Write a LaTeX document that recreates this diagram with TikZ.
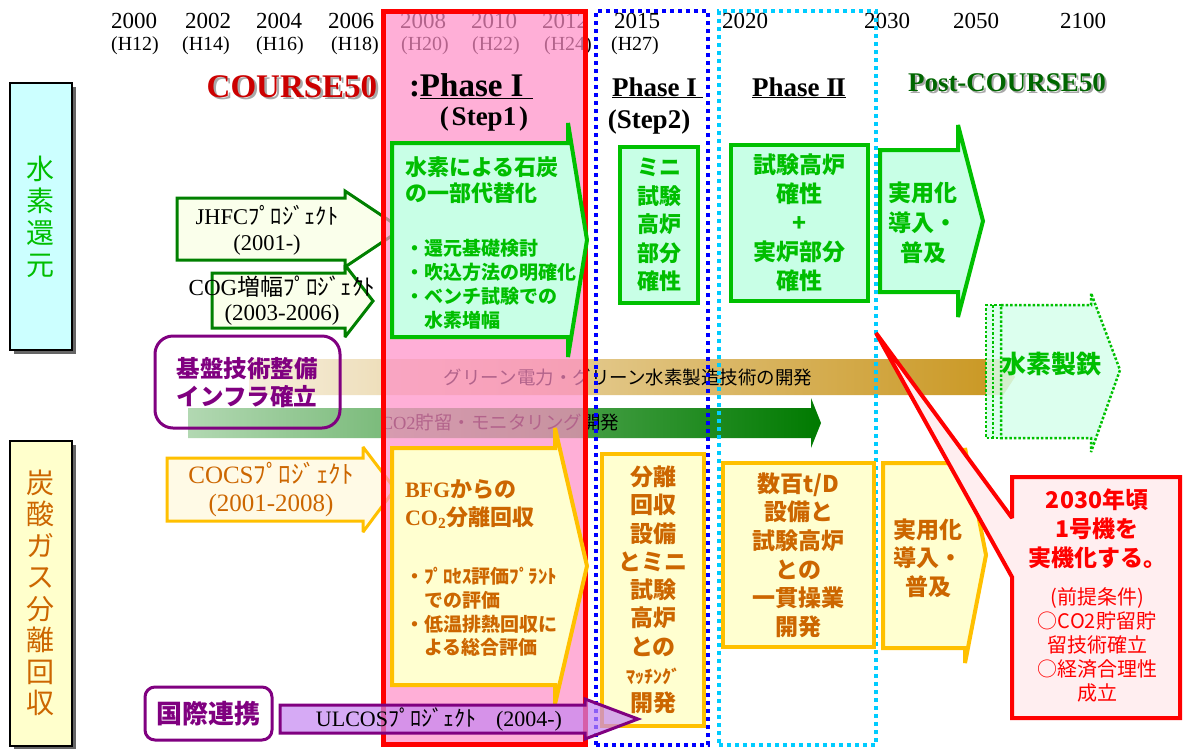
\documentclass[tikz,border=0pt]{standalone}
\usepackage{fontspec}
\setmainfont{Liberation Serif}
\newfontfamily\jp{Noto Sans CJK JP}
\usetikzlibrary{shadings}
\definecolor{gtxt}{HTML}{00BE00}
\definecolor{gline}{HTML}{00C000}
\definecolor{mint}{HTML}{C8FFE6}
\definecolor{mintl}{HTML}{D6FFEC}
\definecolor{otxt}{HTML}{CC6600}
\definecolor{yline}{HTML}{FFC000}
\definecolor{yfill}{HTML}{FFFFD0}
\definecolor{pinkb}{HTML}{FF8EC7}
\definecolor{purp}{HTML}{800080}
\definecolor{ulfill}{HTML}{C686F1}
\definecolor{dgreen}{HTML}{008000}
\definecolor{jhfill}{HTML}{FAFFEB}
\definecolor{cofill}{HTML}{FFFAE6}
\definecolor{cyanb}{HTML}{00CCFF}
\definecolor{callf}{HTML}{FFEEF0}
\definecolor{lcyan}{HTML}{CCFFFF}
\definecolor{lyel}{HTML}{FFFFCC}
\definecolor{gold1}{HTML}{F6EEDC}
\definecolor{gold2}{HTML}{C9961F}
\definecolor{co2a}{HTML}{B2D8B2}
\definecolor{co2b}{HTML}{007A00}
\definecolor{postg}{HTML}{006600}
\definecolor{c50red}{HTML}{CC0000}
\definecolor{shad}{HTML}{A8A8A8}
\newcommand\fsz[2]{\fontsize{#1}{#2}\selectfont}
\begin{document}
\begin{tikzpicture}[x=1pt,y=-1pt,line join=miter,miter limit=3,
  lbl/.style={inner sep=0pt,outer sep=0pt},
  yr/.style={lbl,font=\fsz{23}{23},anchor=base},
  hy/.style={lbl,font=\fsz{20}{20},anchor=base},
  hdr/.style={lbl,font=\bfseries\fsz{27}{27},anchor=base},
  gbox/.style={draw=gline,fill=mint,line width=4pt},
  ybox/.style={draw=yline,fill=yfill,line width=4pt},
  dotframe/.style={lbl,line width=4pt,dash pattern=on 4pt off 4pt,anchor=north west},
  bartx/.style={lbl,font=\jp\fsz{18.5}{18.5}},
  dotg/.style={draw=gline,line width=2.5pt,dash pattern=on 2.5pt off 2pt},
]
\useasboundingbox (0,0) rectangle (1184,748);
\fill[white] (0,0) rectangle (1184,748);

% ---------- years ----------
\node[yr] (y00) at (134,28) {2000};
\node[yr] (y02) at (208,28) {2002};
\node[yr] (y04) at (279,28) {2004};
\node[yr] (y06) at (351,28) {2006};
\node[yr] (y08) at (423,28) {2008};
\node[yr] (y10) at (494,28) {2010};
\node[yr] (y12) at (565,28) {2012};
\node[yr] (y15) at (637,28) {2015};
\node[yr] (y20) at (745,28) {2020};
\node[yr] (y30) at (887,28) {2030};
\node[yr] (y50) at (976,28) {2050};
\node[yr] (y100) at (1083,28) {2100};
\node[hy] (h12) at (135,50) {(H12)};
\node[hy] (h14) at (206,50) {(H14)};
\node[hy] (h16) at (280,50) {(H16)};
\node[hy] (h18) at (355,50) {(H18)};
\node[hy] (h20) at (425,50) {(H20)};
\node[hy] (h22) at (496,50) {(H22)};
\node[hy] (h24) at (568,50) {(H24)};
\node[hy] (h27) at (635,50) {(H27)};

% ---------- COURSE50 ----------
\node[lbl,font=\bfseries\fsz{33}{33},text=shad,anchor=base] (c50s) at (294.5,99.5) {COURSE50};
\node[lbl,font=\bfseries\fsz{33}{33},text=c50red,anchor=base] (c50) at (292,97) {COURSE50};

% ---------- bars ----------
\shade[left color=gold1,right color=gold2] (249,359) -- (1000,359) -- (1000,354) -- (1015,377) -- (1000,400) -- (1000,395) -- (249,395) -- cycle;
\node[bartx] (gbt) at (628,377) {グリーン電力・グリーン水素製造技術の開発};
\shade[left color=co2a,right color=co2b] (188,408) -- (811,408) -- (811,398) -- (821,423) -- (811,448) -- (811,438) -- (188,438) -- cycle;
\node[bartx] (cbt) at (500,423) {{\rmfamily CO2}貯留・モニタリング開発};

% ---------- early projects ----------
\draw[draw=dgreen,fill=jhfill,line width=3pt] (177,198) -- (345,198) -- (345,191) -- (402,229) -- (345,267) -- (345,260) -- (177,260) -- cycle;
\node[lbl,align=center,font=\fsz{22.5}{26}] (jt) at (267,230) {JHFC{\jp ﾌﾟﾛｼﾞｪｸﾄ}\\(2001-)};
\draw[draw=dgreen,fill=jhfill,line width=3pt] (212,273) -- (345,273) -- (345,265) -- (373,301) -- (345,337) -- (345,328) -- (212,328) -- cycle;
\node[lbl,align=center,font=\fsz{23}{25}] (ct) at (282,301) {COG{\jp 増幅ﾌﾟﾛｼﾞｪｸﾄ}\\(2003-2006)};
\draw[draw=yline,fill=cofill,line width=3pt] (167,458) -- (363,458) -- (363,447) -- (395,489) -- (363,532) -- (363,521) -- (167,521) -- cycle;
\node[lbl,align=center,text=otxt,font=\fsz{25}{28}] (cst) at (271,489) {COCS{\jp ﾌﾟﾛｼﾞｪｸﾄ}\\(2001-2008)};

% ---------- phase frames ----------
\node[lbl,fill=pinkb,fill opacity=0.7,draw=red,line width=5pt,minimum width=202,minimum height=733,anchor=north west] (p1) at (383,11) {};
\node[dotframe,draw=blue,minimum width=112,minimum height=734] (p1b) at (596,11) {};
\node[dotframe,draw=cyanb,minimum width=157,minimum height=734] (p2) at (719,11) {};

% ---------- headers ----------
\node[lbl,anchor=base west,font=\bfseries\fsz{33}{33}] (ph1) at (409,96) {:\underline{Phase I\hspace{9pt}}};
\node[hdr] (st1) at (484,125) {(\kern3pt Step1\kern3pt)};
\node[hdr,anchor=base west] (ph1s2) at (612,96) {\underline{Phase I\hspace{6pt}}};
\node[hdr] (st2) at (649,128) {(Step2)};
\node[hdr] (ph2) at (799,96) {\underline{Phase I\kern-1.5pt I}};
\node[hdr,text=shad] (posts) at (1009,93) {Post-COURSE50};
\node[hdr,text=postg] (post) at (1007,91) {Post-COURSE50};

% ---------- hydrogen row ----------
\draw[gbox] (392,143) -- (568,143) -- (568,123) -- (587,240) -- (568,357) -- (568,337) -- (392,337) -- cycle;
\node[lbl,anchor=west,align=left,text=gtxt,font=\jp\bfseries\fsz{22}{26}] (g1t) at (405,180) {水素による石炭\\の一部代替化};
\node[lbl,anchor=west,align=left,text=gtxt,font=\jp\bfseries\fsz{19}{24}] (g1b) at (405,284) {・還元基礎検討\\・吹込方法の明確化\\・ベンチ試験での\\　水素増幅};
\node[gbox,lbl,minimum width=78,minimum height=156,align=center,text=gtxt,font=\jp\bfseries\fsz{22}{28.5}] (mini) at (659,225) {ミニ\\試験\\高炉\\部分\\確性};
\node[gbox,lbl,minimum width=137,minimum height=156,align=center,text=gtxt,font=\jp\bfseries\fsz{23}{29}] (p2box) at (799.5,223) {試験高炉\\確性\\+\\実炉部分\\確性};
\draw[gbox] (880,150) -- (958,150) -- (958,125) -- (983,221) -- (958,317) -- (958,292) -- (880,292) -- cycle;
\node[lbl,align=center,text=gtxt,font=\jp\bfseries\fsz{23}{30}] (g4t) at (923,223) {実用化\\導入・\\普及};

% ---------- CO2 row ----------
\draw[ybox] (392,448) -- (555,448) -- (555,428) -- (587,566) -- (555,704) -- (555,685) -- (392,685) -- cycle;
\node[lbl,anchor=west,align=left,text=otxt,font=\bfseries\fsz{22}{28}] (y1t) at (405,504) {BFG{\jp からの}\\CO\textsubscript{2}{\jp 分離回収}};
\node[lbl,anchor=west,align=left,text=otxt,font=\jp\bfseries\fsz{19}{23.7}] (y1b) at (405,612) {・ﾌﾟﾛｾｽ評価ﾌﾟﾗﾝﾄ\\　での評価\\・低温排熱回収に\\　よる総合評価};
\node[ybox,lbl,minimum width=102,minimum height=272,align=center,text=otxt,font=\jp\bfseries\fsz{23}{28.25}] (sep) at (653,590) {分離\\回収\\設備\\とミニ\\試験\\高炉\\との\\{\fsz{18}{28.25}ﾏｯﾁﾝｸﾞ}\\開発};
\node[ybox,lbl,minimum width=151,minimum height=184,align=center,text=otxt,font=\jp\bfseries\fsz{23}{28.6}] (sup) at (798.5,555) {数百t/D\\設備と\\試験高炉\\との\\一貫操業\\開発};
\draw[ybox] (883,463) -- (965,463) -- (965,448) -- (986,555) -- (965,663) -- (965,648) -- (883,648) -- cycle;
\node[lbl,align=center,text=otxt,font=\jp\bfseries\fsz{23}{28.5}] (y4t) at (928,558) {実用化\\導入・\\普及};

% ---------- side labels ----------
\fill[black!60] (14,87) rectangle (76,354);
\node[lbl,draw=black,line width=1.3pt,fill=lcyan,minimum width=62,minimum height=267,anchor=north west] (lh) at (10,83) {};
\node[lbl,align=center,text=gtxt,font=\jp\fsz{28}{32}] (lht) at (41,217) {水\\素\\還\\元};
\fill[black!60] (14,445) rectangle (76,752);
\node[lbl,draw=black,line width=1.3pt,fill=lyel,minimum width=62,minimum height=305,anchor=north west] (lc) at (10,441) {};
\node[lbl,align=center,text=otxt,font=\jp\fsz{28}{31.5}] (lct) at (41,593) {炭\\酸\\ガ\\ス\\分\\離\\回\\収};

% ---------- infrastructure ----------
\node[lbl,draw=purp,line width=3pt,rounded corners=18pt,minimum width=185,minimum height=92,anchor=north west] (kb) at (155,336) {};
\node[lbl,align=center,text=purp,font=\jp\bfseries\fsz{23.5}{28}] (kbt) at (247,383) {基盤技術整備\\インフラ確立};
\node[lbl,draw=purp,line width=3pt,rounded corners=10pt,minimum width=127,minimum height=53,text=purp,font=\jp\bfseries\fsz{26}{26}] (kk) at (208.5,713.5) {国際連携};

% ---------- hydrogen ironmaking ----------
\fill[mintl,fill opacity=0.85] (986,305) -- (1091,305) -- (1091,293) -- (1120,370) -- (1091,452) -- (1091,438) -- (986,438) -- cycle;
\draw[dotg] (1001,305) -- (1091,305) -- (1091,293) -- (1120,370) -- (1091,452) -- (1091,438) -- (1001,438) -- cycle;
\draw[dotg] (1001,305) -- (986,305) -- (986,438) -- (1001,438);
\draw[dotg] (993,305) -- (993,438);
\node[lbl,text=gtxt,font=\jp\bfseries\fsz{25}{25}] (h2fe) at (1051,364) {水素製鉄};

% ---------- ULCOS ----------
\draw[draw=purp,fill=ulfill,fill opacity=0.7,line width=3pt] (280,705) -- (585,705) -- (585,699) -- (638,719) -- (585,739) -- (585,733) -- (280,733) -- cycle;
\node[lbl,font=\fsz{22}{22}] (ult) at (439,719) {ULCOS{\jp ﾌﾟﾛｼﾞｪｸﾄ}\hspace{20pt}(2004-)};

% ---------- callout ----------
\draw[draw=red,fill=callf,line width=4pt] (1012,477) -- (1180,477) -- (1180,718) -- (1012,718) -- (1012,577) -- (876,333) -- (1012,518) -- cycle;
\node[lbl,align=center,text=red,font=\jp\bfseries\fsz{23}{29}] (cl1) at (1097,529) {2030年頃\\1号機を\\実機化する。};
\node[lbl,align=center,text=red,font=\jp\fsz{20}{24}] (cl2) at (1097,645) {(前提条件)\\○CO2貯留貯\\留技術確立\\○経済合理性\\成立};
\end{tikzpicture}
\end{document}
